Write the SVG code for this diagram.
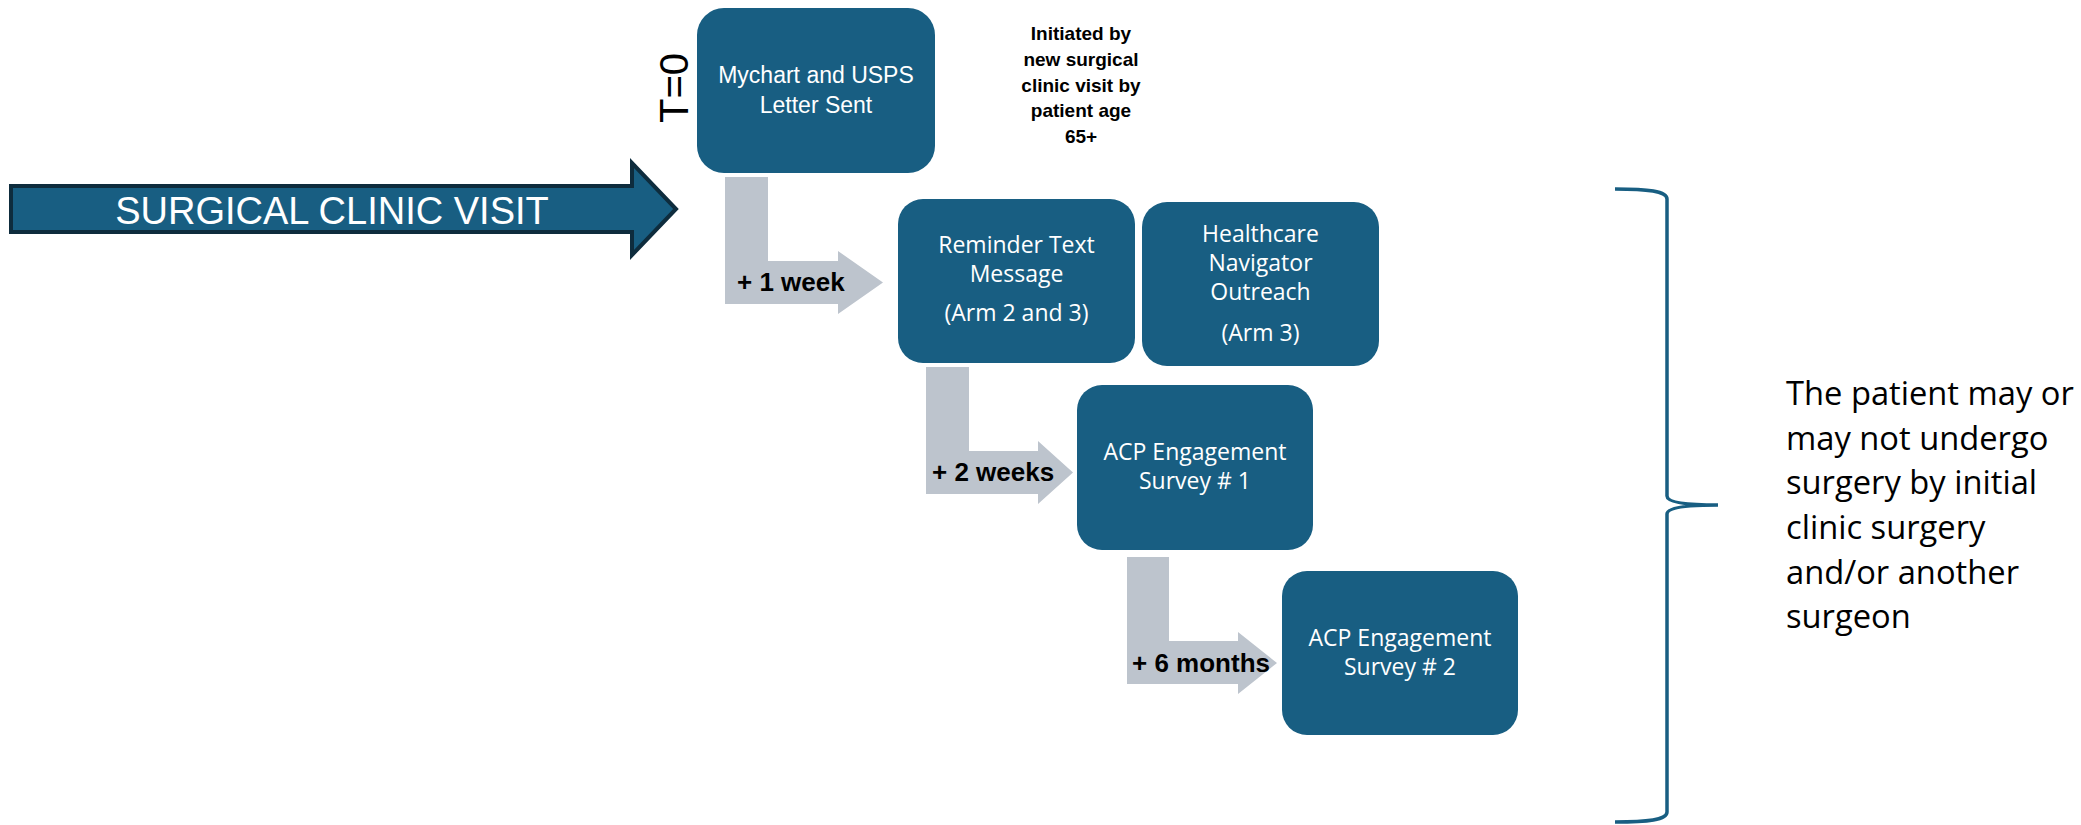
<svg xmlns="http://www.w3.org/2000/svg" width="2081" height="825" viewBox="0 0 2081 825">
<style>
.box{fill:#185e82}
.bt{font-family:"Open Sans","Liberation Sans",sans-serif;font-size:23px;fill:#ffffff;text-anchor:middle}
.ct{font-family:"Liberation Sans",Arial,sans-serif;font-size:23px;fill:#ffffff;text-anchor:middle}
.gl{fill:#bdc4cd}
.lbl{font-family:"Liberation Sans",Arial,sans-serif;font-size:26px;font-weight:bold;fill:#000000}
.note{font-family:"Liberation Sans",Arial,sans-serif;font-size:19px;font-weight:bold;fill:#000000;text-anchor:middle}
.side{font-family:"Open Sans","Liberation Sans",sans-serif;font-size:32.7px;fill:#000000}
</style>
<rect width="2081" height="825" fill="#ffffff"/>

<g id="surgical-clinic-visit">
  <path d="M11,186 L632,186 L632,163 L676,209 L632,255 L632,232 L11,232 Z" fill="#185e82" stroke="#0e2c3d" stroke-width="4" stroke-linejoin="miter"/>
  <text x="332" y="224" font-family="'Liberation Sans',Arial,sans-serif" font-size="38" fill="#ffffff" text-anchor="middle">SURGICAL CLINIC VISIT</text>
</g>

<g id="t0-label">
  <text transform="translate(688,88) rotate(-90)" font-family="'Liberation Sans',Arial,sans-serif" font-size="40" fill="#000000" text-anchor="middle">T=0</text>
</g>

<g id="note-initiated">
  <text class="note" x="1081" y="40">Initiated by</text>
  <text class="note" x="1081" y="66">new surgical</text>
  <text class="note" x="1081" y="92">clinic visit by</text>
  <text class="note" x="1081" y="117">patient age</text>
  <text class="note" x="1081" y="143">65+</text>
</g>

<g id="connectors">
  <g id="arrow-1week">
    <path class="gl" d="M725,177 L768,177 L768,261 L838,261 L838,251 L883,282.5 L838,314 L838,304 L725,304 Z"/>
    <text class="lbl" x="737" y="291">+ 1 week</text>
  </g>
  <g id="arrow-2weeks">
    <path class="gl" d="M926,367 L969,367 L969,451 L1038,451 L1038,441 L1073,472.5 L1038,504 L1038,494 L926,494 Z"/>
    <text class="lbl" x="932" y="481">+ 2 weeks</text>
  </g>
  <g id="arrow-6months">
    <path class="gl" d="M1127,557 L1169,557 L1169,641 L1238,641 L1238,632 L1277,663 L1238,694 L1238,684 L1127,684 Z"/>
    <text class="lbl" x="1132" y="672" font-size="24">+ 6 months</text>
  </g>
  <path id="brace" d="M1615,189 C1648,189 1667,191 1667,199 L1667,496 C1667,503 1690,505 1718,505 C1690,505 1667,507 1667,514 L1667,812 C1667,820 1648,822 1615,822" fill="none" stroke="#185e82" stroke-width="3.5"/>
</g>

<g id="node-mychart">
  <rect class="box" x="697" y="8" width="238" height="165" rx="27"/>
  <text class="ct" x="816" y="83">Mychart and USPS</text>
  <text class="ct" x="816" y="113">Letter Sent</text>
</g>

<g id="node-reminder">
  <rect class="box" x="898" y="199" width="237" height="164" rx="25"/>
  <text class="bt" x="1016.5" y="253">Reminder Text</text>
  <text class="bt" x="1016.5" y="282">Message</text>
  <text class="bt" x="1016.5" y="321">(Arm 2 and 3)</text>
</g>

<g id="node-navigator">
  <rect class="box" x="1142" y="202" width="237" height="164" rx="25"/>
  <text class="bt" x="1260.5" y="242">Healthcare</text>
  <text class="bt" x="1260.5" y="271">Navigator</text>
  <text class="bt" x="1260.5" y="300">Outreach</text>
  <text class="bt" x="1260.5" y="341">(Arm 3)</text>
</g>

<g id="node-survey1">
  <rect class="box" x="1077" y="385" width="236" height="165" rx="25"/>
  <text class="bt" x="1195" y="460">ACP Engagement</text>
  <text class="bt" x="1195" y="489">Survey # 1</text>
</g>

<g id="node-survey2">
  <rect class="box" x="1282" y="571" width="236" height="164" rx="25"/>
  <text class="bt" x="1400" y="646">ACP Engagement</text>
  <text class="bt" x="1400" y="675">Survey # 2</text>
</g>

<g id="side-note">
  <text class="side" x="1786" y="405">The patient may or</text>
  <text class="side" x="1786" y="450">may not undergo</text>
  <text class="side" x="1786" y="494">surgery by initial</text>
  <text class="side" x="1786" y="539">clinic surgery</text>
  <text class="side" x="1786" y="584">and/or another</text>
  <text class="side" x="1786" y="628">surgeon</text>
</g>
</svg>
